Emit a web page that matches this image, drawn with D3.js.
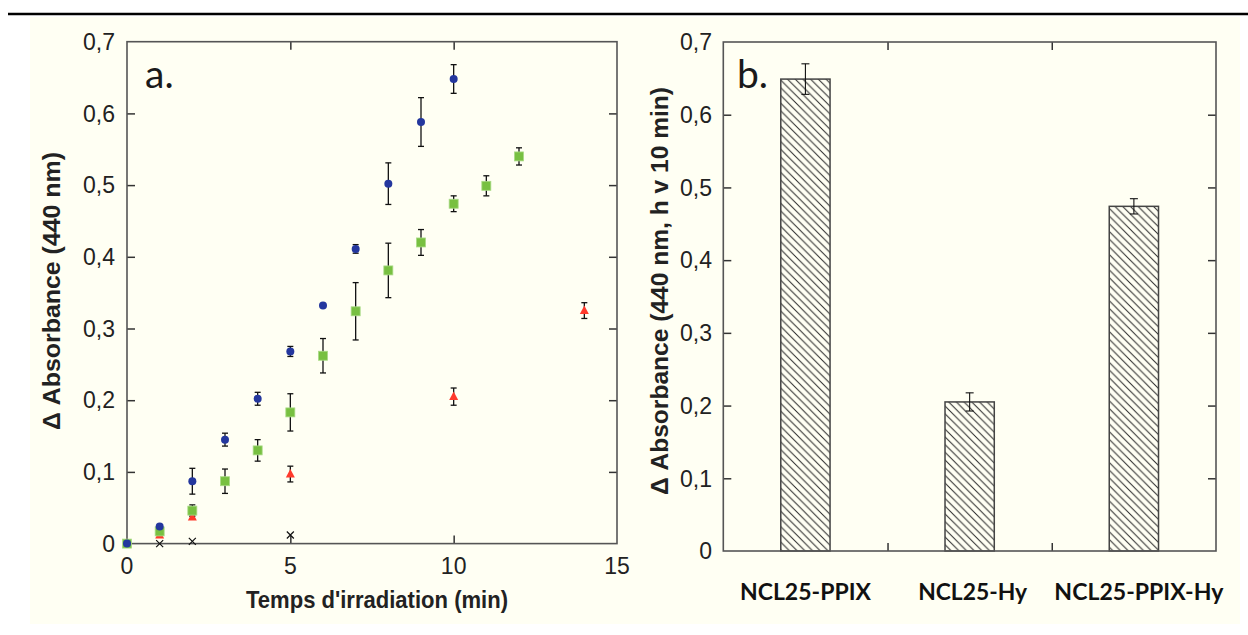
<!DOCTYPE html>
<html><head><meta charset="utf-8">
<script src="https://cdn.jsdelivr.net/npm/d3@7"></script>
<style>
html,body{margin:0;padding:0;background:#fff;}
svg{display:block;}
</style></head>
<body>
<script>
// ---------- Data: panel a (Δ Absorbance vs irradiation time) ----------
const ppixX   = [0, 1, 2, 3, 4, 5, 6, 7, 8, 9, 10];
const ppixY   = [0, 0.024, 0.087, 0.145, 0.202, 0.268, 0.332, 0.411, 0.502, 0.588, 0.648];
const ppixErr = [0, 0, 0.018, 0.009, 0.009, 0.007, 0.002, 0.006, 0.029, 0.034, 0.020];

const ppixHyX   = [0, 1, 2, 3, 4, 5, 6, 7, 8, 9, 10, 11, 12];
const ppixHyY   = [0, 0.017, 0.046, 0.087, 0.130, 0.183, 0.262, 0.324, 0.381, 0.420, 0.474, 0.499, 0.540];
const ppixHyErr = [0, 0, 0.008, 0.017, 0.015, 0.026, 0.024, 0.040, 0.038, 0.018, 0.011, 0.014, 0.012];

const hyX   = [0, 1, 2, 5, 10, 14];
const hyY   = [0, 0.012, 0.037, 0.097, 0.205, 0.325];
const hyErr = [0, 0, 0.003, 0.011, 0.012, 0.011];

const ctrlX = [0, 1, 2, 5];
const ctrlY = [0, 0, 0.003, 0.012];

const xTicksA = [0, 5, 10, 15];
const yTicks  = [0, 0.1, 0.2, 0.3, 0.4, 0.5, 0.6, 0.7];

// ---------- Data: panel b (bars at 10 min) ----------
const barCats = ["NCL25-PPIX", "NCL25-Hy", "NCL25-PPIX-Hy"];
const barVals = [0.649, 0.205, 0.474];
const barErrs = [0.021, 0.0125, 0.0105];

const fmt = v => v === 0 ? "0" : d3.format(".1f")(v).replace(".", ",");

const W = 1248, H = 635;
const svg = d3.select("body").append("svg").attr("width", W).attr("height", H);

// background
svg.append("rect").attr("x", 30).attr("y", 17).attr("width", 1210).attr("height", 607).attr("fill", "#fffff3");
svg.append("line").attr("x1", 8).attr("x2", 1248).attr("y1", 14).attr("y2", 14)
  .attr("stroke", "#000").attr("stroke-width", 2.7);

const tickFont = "'Liberation Sans', Arial, sans-serif";
const frameCol = "#555";

// ================= Panel a =================
const xA = d3.scaleLinear().domain([0, 15]).range([127, 617]);
const yA = d3.scaleLinear().domain([0, 0.7]).range([543.6, 41.7]);
const gA = svg.append("g");

// ticks (inward) using d3 axes
const tl = 8;
gA.append("g").attr("transform", `translate(${xA.range()[0]},0)`)
  .call(d3.axisRight(yA).tickValues(yTicks.slice(1, -1)).tickSize(tl).tickFormat(""));
gA.append("g").attr("transform", `translate(${xA.range()[1]},0)`)
  .call(d3.axisLeft(yA).tickValues(yTicks.slice(1, -1)).tickSize(tl).tickFormat(""));
gA.append("g").attr("transform", `translate(0,${yA.range()[0]})`)
  .call(d3.axisTop(xA).tickValues(xTicksA.slice(1, -1)).tickSize(tl).tickFormat(""));
gA.append("g").attr("transform", `translate(0,${yA.range()[1]})`)
  .call(d3.axisBottom(xA).tickValues(xTicksA.slice(1, -1)).tickSize(tl).tickFormat(""));
gA.selectAll(".domain").remove();
gA.selectAll(".tick line").attr("stroke", "#333").attr("stroke-width", 1.5);

gA.append("rect").attr("x", xA(0)).attr("y", yA(0.7))
  .attr("width", xA(15) - xA(0)).attr("height", yA(0) - yA(0.7))
  .attr("fill", "none").attr("stroke", frameCol).attr("stroke-width", 1.6);

// tick labels
gA.selectAll(".yl").data(yTicks).enter().append("text")
  .attr("x", 115).attr("y", d => yA(d)).attr("dy", "0.36em")
  .attr("text-anchor", "end").attr("font-family", tickFont).attr("font-size", 23)
  .attr("fill", "#222").text(fmt);
gA.selectAll(".xl").data(xTicksA).enter().append("text")
  .attr("x", d => xA(d)).attr("y", 574)
  .attr("text-anchor", "middle").attr("font-family", tickFont).attr("font-size", 23)
  .attr("fill", "#222").text(d => d);

// axis titles
gA.append("text").attr("transform", "translate(60,291) rotate(-90)")
  .attr("text-anchor", "middle").attr("font-family", tickFont).attr("font-weight", "bold")
  .attr("font-size", 24).attr("fill", "#222")
  .attr("textLength", 278).attr("lengthAdjust", "spacingAndGlyphs")
  .text("Δ Absorbance (440 nm)");
gA.append("text").attr("x", 377).attr("y", 608)
  .attr("text-anchor", "middle").attr("font-family", tickFont).attr("font-weight", "bold")
  .attr("font-size", 24).attr("fill", "#222")
  .attr("textLength", 262).attr("lengthAdjust", "spacingAndGlyphs")
  .text("Temps d'irradiation (min)");
gA.append("text").attr("x", 145).attr("y", 88)
  .attr("font-family", "Lato, 'Open Sans', sans-serif").attr("font-size", 39)
  .attr("fill", "#1a1a1a").text("a.");

// error bars
function errBars(g, xs, ys, es, cap) {
  const d = xs.map((x, i) => ({x, y: ys[i], e: es[i]})).filter(p => p.e > 0);
  const eg = g.append("g").attr("stroke", "#111").attr("stroke-width", 1.3);
  eg.selectAll(".v").data(d).enter().append("line")
    .attr("x1", p => xA(p.x)).attr("x2", p => xA(p.x))
    .attr("y1", p => yA(p.y - p.e)).attr("y2", p => yA(p.y + p.e));
  [1, -1].forEach(s => {
    eg.selectAll(".c" + s).data(d).enter().append("line")
      .attr("x1", p => xA(p.x) - cap).attr("x2", p => xA(p.x) + cap)
      .attr("y1", p => yA(p.y + s * p.e)).attr("y2", p => yA(p.y + s * p.e));
  });
}
errBars(gA, hyX, hyY, hyErr, 3);
errBars(gA, ppixHyX, ppixHyY, ppixHyErr, 3);
errBars(gA, ppixX, ppixY, ppixErr, 3);

// control: x markers
gA.selectAll(".cx").data(ctrlX.map((x, i) => ({x, y: ctrlY[i]}))).enter().append("path")
  .attr("d", p => { const cx = xA(p.x), cy = yA(p.y), r = 3.5;
    return `M${cx-r},${cy-r}L${cx+r},${cy+r}M${cx-r},${cy+r}L${cx+r},${cy-r}`; })
  .attr("stroke", "#111").attr("stroke-width", 1.2).attr("fill", "none");

// red triangles
gA.selectAll(".tr").data(hyX.map((x, i) => ({x, y: hyY[i]}))).enter().append("path")
  .attr("d", p => { const cx = xA(p.x), cy = yA(p.y);
    return `M${cx},${cy-5}L${cx+4.5},${cy+3.5}L${cx-4.5},${cy+3.5}Z`; })
  .attr("fill", "#ff3a2c");

// green squares
gA.selectAll(".sq").data(ppixHyX.map((x, i) => ({x, y: ppixHyY[i]}))).enter().append("rect")
  .attr("x", p => xA(p.x) - 4.5).attr("y", p => yA(p.y) - 4.5)
  .attr("width", 9).attr("height", 9)
  .attr("fill", "#78c041").attr("stroke", "#a9da86").attr("stroke-width", 0.8);

// blue circles
gA.selectAll(".ci").data(ppixX.map((x, i) => ({x, y: ppixY[i]}))).enter().append("circle")
  .attr("cx", p => xA(p.x)).attr("cy", p => yA(p.y)).attr("r", 4)
  .attr("fill", "#24379e");

// ================= Panel b =================
const xB = d3.scaleBand().domain(barCats).range([723.3, 1216]).paddingInner(0).paddingOuter(0);
const yB = d3.scaleLinear().domain([0, 0.7]).range([551, 42]);
const gB = svg.append("g");

const defs = svg.append("defs");
const pat = defs.append("pattern").attr("id", "hatch").attr("patternUnits", "userSpaceOnUse")
  .attr("width", 7.7).attr("height", 7.7);
pat.append("rect").attr("width", 7.7).attr("height", 7.7).attr("fill", "#fffff3");
pat.append("path").attr("d", "M-1,-1L8.7,8.7M-1,6.7L1,8.7M6.7,-1L8.7,1")
  .attr("stroke", "#2a2a2a").attr("stroke-width", 1);

const bounds = barCats.slice(1).map(c => xB(c));
gB.append("g").attr("transform", `translate(${xB.range()[0]},0)`)
  .call(d3.axisRight(yB).tickValues(yTicks.slice(1, -1)).tickSize(tl).tickFormat(""));
gB.append("g").attr("transform", `translate(${xB.range()[1]},0)`)
  .call(d3.axisLeft(yB).tickValues(yTicks.slice(1, -1)).tickSize(tl).tickFormat(""));
const xLin = d3.scaleLinear().domain(xB.range()).range(xB.range());
gB.append("g").attr("transform", `translate(0,${yB(0)})`)
  .call(d3.axisTop(xLin).tickValues(bounds).tickSize(tl).tickFormat(""));
gB.append("g").attr("transform", `translate(0,${yB(0.7)})`)
  .call(d3.axisBottom(xLin).tickValues(bounds).tickSize(tl).tickFormat(""));
gB.selectAll(".domain").remove();
gB.selectAll(".tick line").attr("stroke", "#333").attr("stroke-width", 1.5);

// bars
const bw = xB.bandwidth() * 0.3;
gB.selectAll(".bar").data(barCats).enter().append("rect")
  .attr("x", (c) => xB(c) + xB.bandwidth() / 2 - bw / 2)
  .attr("y", (c, i) => yB(barVals[i]))
  .attr("width", bw).attr("height", (c, i) => yB(0) - yB(barVals[i]))
  .attr("fill", "url(#hatch)").attr("stroke", "#444").attr("stroke-width", 1.5);

// bar error bars
const be = gB.append("g").attr("stroke", "#111").attr("stroke-width", 1.1);
barCats.forEach((c, i) => {
  const cx = xB(c) + xB.bandwidth() / 2;
  const lo = yB(barVals[i] - barErrs[i]), hi = yB(barVals[i] + barErrs[i]);
  be.append("line").attr("x1", cx).attr("x2", cx).attr("y1", lo).attr("y2", hi);
  be.append("line").attr("x1", cx - 4).attr("x2", cx + 4).attr("y1", lo).attr("y2", lo);
  be.append("line").attr("x1", cx - 4).attr("x2", cx + 4).attr("y1", hi).attr("y2", hi);
});

gB.append("rect").attr("x", xB.range()[0]).attr("y", yB(0.7))
  .attr("width", xB.range()[1] - xB.range()[0]).attr("height", yB(0) - yB(0.7))
  .attr("fill", "none").attr("stroke", frameCol).attr("stroke-width", 1.6);

// tick labels
gB.selectAll(".yl").data(yTicks).enter().append("text")
  .attr("x", 712).attr("y", d => yB(d)).attr("dy", "0.36em")
  .attr("text-anchor", "end").attr("font-family", tickFont).attr("font-size", 23)
  .attr("fill", "#222").text(fmt);

const labLen = [131, 109, 169];
const labShift = [0, 3, 5];
gB.selectAll(".xl").data(barCats).enter().append("text")
  .attr("x", (c, i) => xB(c) + xB.bandwidth() / 2 + labShift[i]).attr("y", 600)
  .attr("text-anchor", "middle").attr("font-family", "Lato, 'Open Sans', sans-serif")
  .attr("font-weight", "bold").attr("font-size", 23).attr("fill", "#111")
  .attr("textLength", (c, i) => labLen[i]).attr("lengthAdjust", "spacingAndGlyphs")
  .text(c => c);

gB.append("text").attr("transform", "translate(668,291) rotate(-90)")
  .attr("text-anchor", "middle").attr("font-family", tickFont).attr("font-weight", "bold")
  .attr("font-size", 24).attr("fill", "#222")
  .attr("textLength", 408).attr("lengthAdjust", "spacingAndGlyphs")
  .text("Δ Absorbance (440 nm, h v 10 min)");
gB.append("text").attr("x", 737).attr("y", 88)
  .attr("font-family", "Lato, 'Open Sans', sans-serif").attr("font-size", 39)
  .attr("fill", "#1a1a1a").text("b.");
</script>
</body></html>
